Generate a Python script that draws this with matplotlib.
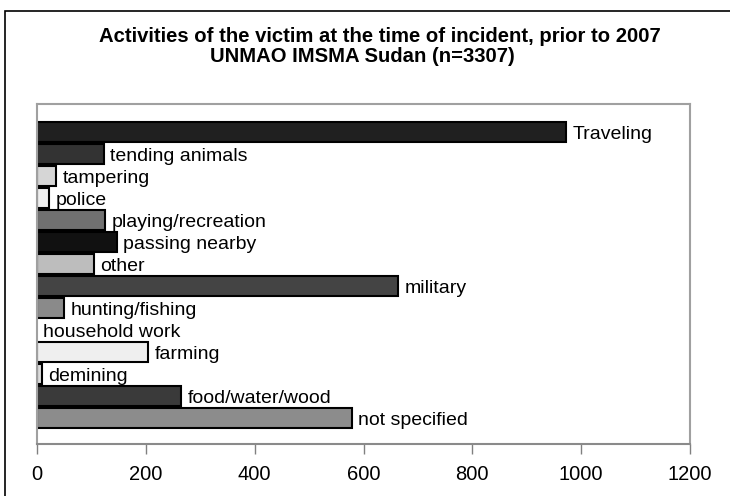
import matplotlib.pyplot as plt
from matplotlib.patches import Rectangle

activities = [
    "Traveling", "tending animals", "tampering", "police", "playing/recreation",
    "passing nearby", "other", "military", "hunting/fishing", "household work",
    "farming", "demining", "food/water/wood", "not specified",
]
victims = [972, 123, 35, 22, 125, 147, 105, 664, 50, 0, 204, 9, 265, 578]
shades = [
    "#202020", "#333333", "#d6d6d6", "#f0f0f0", "#707070",
    "#111111", "#bdbdbd", "#444444", "#8a8a8a", "#ffffff",
    "#efefef", "#dcdcdc", "#3a3a3a", "#8c8c8c",
]
xticks = [0, 200, 400, 600, 800, 1000, 1200]

plt.rcParams["font.family"] = ["Liberation Sans", "DejaVu Sans"]

fig = plt.figure(figsize=(7.3, 4.96), dpi=100)
# outer frame, only the left and top edges fall inside the picture
fig.patches.append(Rectangle((5 / 730, -0.1), 1.2, 485 / 496 + 0.1,
                             transform=fig.transFigure, fill=False,
                             edgecolor="black", linewidth=1.2))

ax = fig.add_axes([37 / 730, 52 / 496, 653 / 730, 340 / 496])
ypos = list(range(len(activities)))
edges = ["black" if v > 0 else "none" for v in victims]
ax.barh(ypos, victims, height=0.92, color=shades, edgecolor=edges, linewidth=1.5)
for y, v, name in zip(ypos, victims, activities):
    ax.annotate(name, (v, y), xytext=(4.5, -1.5), textcoords="offset points",
                ha="left", va="center", fontsize=14)

ax.set_xlim(0, 1200)
ax.set_ylim(14.18, -1.27)
ax.set_yticks([])
ax.set_xticks(xticks)
ax.tick_params(axis="x", direction="out", length=7, width=1, color="#808080",
               labelsize=14.5, pad=8)
for side in ["top", "right", "left"]:
    ax.spines[side].set_color("#a0a0a0")
    ax.spines[side].set_linewidth(1.5)
ax.spines["bottom"].set_color("#8a8a8a")
ax.spines["bottom"].set_linewidth(1.5)

fig.text(380 / 730, 1 - 36 / 496, "Activities of the victim at the time of incident, prior to 2007",
         ha="center", va="center", fontsize=14.6, fontweight="bold")
fig.text(362 / 730, 1 - 57 / 496, "UNMAO IMSMA Sudan (n=3307)",
         ha="center", va="center", fontsize=14.6, fontweight="bold")

fig.savefig("out.png", dpi=100)
